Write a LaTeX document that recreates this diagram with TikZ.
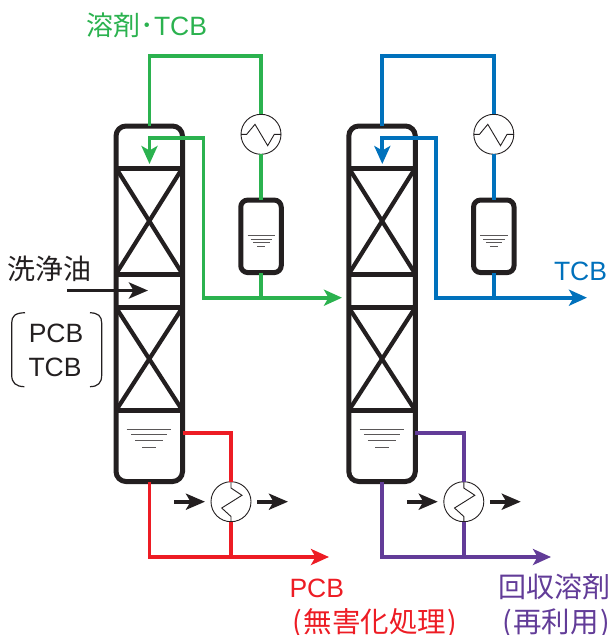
\documentclass[tikz,border=0pt]{standalone}
\usepackage{fontspec}
\setmainfont{Liberation Sans}
\newfontfamily\cjk{Noto Sans CJK JP}
\usetikzlibrary{arrows.meta}
\definecolor{ink}{HTML}{231F20}
\definecolor{cgreen}{HTML}{2BB24F}
\definecolor{cblue}{HTML}{0071BC}
\definecolor{cred}{HTML}{ED1C24}
\definecolor{cpurple}{HTML}{623C98}
\tikzset{
  vessel/.style={draw=ink,line width=5pt,rounded corners=10pt,inner sep=0pt,outer sep=0pt},
  drum/.style={draw=ink,line width=5pt,rounded corners=7pt,inner sep=0pt,outer sep=0pt,minimum width=40.5pt,minimum height=72.5pt},
  hx/.style={circle,draw=ink,line width=0.9pt,inner sep=0pt,outer sep=0pt,minimum size=40pt},
  tray/.style={draw=ink,line width=5pt},
  packing/.style={draw=ink,line width=4.2pt},
  pipe/.style={line width=3.9pt,line join=miter},
  flow/.style={-{Stealth[length=18pt,width=16pt,inset=4.5pt]}},
  level/.style={draw=ink!75,line width=1pt},
  zig/.style={draw=ink,line width=0.9pt,line join=miter},
  blackflow/.style={draw=ink,line width=3.6pt,-{Stealth[length=19pt,width=16pt,inset=4.5pt]}},
  brk/.style={draw=ink,line width=1.2pt},
  lab/.style={inner sep=0pt,outer sep=0pt,anchor=base},
  labw/.style={inner sep=0pt,outer sep=0pt,anchor=base west},
}
% #1 prefix, #2 x offset, #3 overhead colour, #4 bottoms colour, #5 top tip x (relative), #6 bottom tip x (relative)
\newcommand\distunit[6]{
\begin{scope}[xshift=#2pt]
  \coordinate (#1a) at (116,168); \coordinate (#1b) at (182.5,168);
  \coordinate (#1c) at (116,274); \coordinate (#1d) at (182.5,274);
  \coordinate (#1e) at (116,307.5); \coordinate (#1f) at (182.5,307.5);
  \coordinate (#1g) at (116,410.5); \coordinate (#1h) at (182.5,410.5);
  \draw[packing] (#1a) -- (#1d); \draw[packing] (#1b) -- (#1c);
  \draw[packing] (#1e) -- (#1h); \draw[packing] (#1f) -- (#1g);
  \draw[tray] (#1a) -- (#1b); \draw[tray] (#1c) -- (#1d);
  \draw[tray] (#1e) -- (#1f); \draw[tray] (#1g) -- (#1h);
  \node[vessel,minimum width=66.5pt,minimum height=355.5pt] (#1col) at (149.25,303.75) {};
  \draw[level] (126.7,429) -- (171,429);
  \draw[level] (131,434.3) -- (166.7,434.3);
  \draw[level] (135,440) -- (162.7,440);
  \draw[level] (142.3,447.7) -- (155.7,447.7);
  \node[hx] (#1cond) at (261,134.3) {};
  \draw[zig] (#1cond.west) -- (246.7,134.3) -- (255,124.3) -- (267.7,145.7) -- (274.3,134.3) -- (#1cond.east);
  \node[drum] (#1drum) at (261,236.3) {};
  \draw[level] (247.5,235) -- (275,235);
  \draw[level] (250.5,239) -- (272,239);
  \draw[level] (253,242) -- (269.5,242);
  \draw[level] (257,246.7) -- (265,246.7);
  \node[hx] (#1reb) at (231,501.7) {};
  \draw[zig] (#1reb.north) -- (231,488) -- (242,495.3) -- (221.7,508) -- (231,516.5) -- (#1reb.south);
  \coordinate (#1o1) at (149.5,55.7); \coordinate (#1o2) at (261,55.7);
  \draw[pipe,#3] (#1col.north -| #1o1) -- (#1o1) -- (#1o2) -- (#1cond.north);
  \draw[pipe,#3] (#1cond.south) -- (#1drum.north);
  \coordinate (#1r1) at (203.5,297.7); \coordinate (#1r2) at (203.5,137.7);
  \coordinate (#1r3) at (149.5,137.7); \coordinate (#1r4) at (149.5,164);
  \coordinate (#1r5) at (#5,297.7); \coordinate (#1r6) at (261,297.7);
  \draw[pipe,#3,flow] (#1r6) -- (#1r1) -- (#1r2) -- (#1r3) -- (#1r4);
  \draw[pipe,#3] (#1drum.south) -- (#1r6);
  \draw[pipe,#3,flow] (#1r1) -- (#1r5);
  \coordinate (#1b1) at (231,433.3); \coordinate (#1b2) at (149.5,557);
  \coordinate (#1b3) at (231,557); \coordinate (#1b4) at (#6,557);
  \draw[pipe,#4] (#1col.east |- #1b1) -- (#1b1) -- (#1reb.north);
  \draw[pipe,#4] (#1reb.south) -- (#1b3);
  \draw[pipe,#4,flow] (#1col.south -| #1b2) -- (#1b2) -- (#1b4);
  \coordinate (#1u1) at (174,501.7); \coordinate (#1u2) at (205,501.7);
  \coordinate (#1u3) at (257,501.7); \coordinate (#1u4) at (288,501.7);
  \draw[blackflow] (#1u1) -- (#1u2);
  \draw[blackflow] (#1u3) -- (#1u4);
\end{scope}
}
\begin{document}
\begin{tikzpicture}[x=1pt,y=-1pt]
\useasboundingbox (0,0) rectangle (613,635);
\distunit{p}{0}{cgreen}{cred}{342}{329}
\distunit{q}{232.8}{cblue}{cpurple}{354.2}{318.2}
\coordinate (feedA) at (67,290.5);
\coordinate (feedB) at (148,290.5);
\draw[blackflow] (feedA) -- (feedB);
\draw[brk] (25,312.7) .. controls (15,313) and (11.7,316) .. (11.7,323) -- (11.7,375) .. controls (11.7,383) and (16,386.5) .. (24.3,386.7);
\draw[brk] (90,312.7) .. controls (98,313) and (101.7,316) .. (101.7,323) -- (101.7,375) .. controls (101.7,383) and (98,386.5) .. (90,386.7);
\node[labw,text=cgreen] (t1) at (86,35) {\fontsize{27}{27}\selectfont{\cjk 溶剤･}\kern0.5pt\fontsize{26.5}{26.5}\selectfont TCB};
\node[labw,text=ink] (t2) at (7.5,279) {\fontsize{28}{28}\selectfont\cjk 洗浄油};
\node[lab,text=ink] (t3) at (56,342.7) {\fontsize{26.5}{26.5}\selectfont PCB};
\node[lab,text=ink] (t4) at (55,376) {\fontsize{26.5}{26.5}\selectfont TCB};
\node[lab,text=cblue] (t5) at (580.5,280) {\fontsize{26.5}{26.5}\selectfont TCB};
\node[labw,text=cred] (t6) at (289.5,597) {\fontsize{26.5}{26.5}\selectfont PCB};
\node[lab,text=cred] (t7) at (375,632.5) {\fontsize{28.5}{28.5}\selectfont\cjk (\kern1.5pt 無害化処理\kern1.5pt)};
\node[labw,text=cpurple] (t8) at (498,597) {\fontsize{28}{28}\selectfont\cjk 回収溶剤};
\node[lab,text=cpurple] (t9) at (556,632.5) {\fontsize{28.5}{28.5}\selectfont\cjk (\kern1.5pt 再利用\kern1.5pt)};
\end{tikzpicture}
\end{document}
